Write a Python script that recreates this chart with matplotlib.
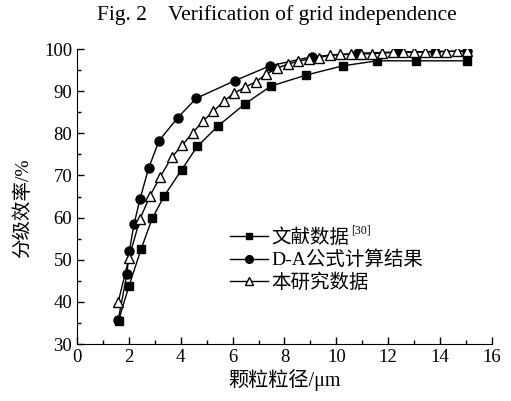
import matplotlib
matplotlib.use("Agg")
import matplotlib.pyplot as plt
from matplotlib.ticker import MultipleLocator

plt.rcParams["font.family"] = ["Liberation Serif", "Noto Sans CJK SC"]

# literature data
lit_x = [1.6, 2.0, 2.47, 2.9, 3.37, 4.04, 4.64, 5.45, 6.48, 7.48, 8.83, 10.24, 11.58, 13.07, 15.02]
lit_y = [35.5, 43.7, 52.5, 59.8, 65.2, 71.4, 76.9, 81.8, 87.0, 91.2, 93.8, 96.0, 97.2, 97.2, 97.2]

# D-A formula results
da_x = [1.59, 1.92, 2.02, 2.2, 2.43, 2.76, 3.16, 3.88, 4.6, 6.09, 7.44, 9.07, 10.82, 12.37, 13.8, 15.02]
da_y = [35.7, 46.5, 52.1, 58.5, 64.4, 71.7, 78.2, 83.7, 88.3, 92.5, 96.0, 98.2, 99.0, 99.3, 99.4, 99.5]

# present study
cur_x = [1.59, 2.0, 2.43, 2.81, 3.2, 3.65, 4.06, 4.46, 4.87, 5.26, 5.67, 6.06, 6.49, 6.89,
         7.29, 7.7, 8.12, 8.53, 8.94, 9.34, 9.75, 10.14, 10.55, 10.95, 11.36, 11.77, 12.19,
         12.58, 13.0, 13.42, 13.83, 14.22, 14.64, 15.02]
cur_y = [40.0, 50.3, 59.7, 65.1, 69.6, 74.3, 77.2, 80.1, 83.0, 85.2, 87.7, 89.5, 91.0, 92.2,
         94.0, 95.4, 96.4, 97.1, 97.6, 97.9, 98.6, 98.7, 98.7, 98.8, 98.9, 99.0, 99.2,
         99.2, 99.2, 99.3, 99.4, 99.4, 99.5, 99.5]

fig = plt.figure(figsize=(5.11, 4.01), dpi=100)
ax = fig.add_axes([0.1507, 0.1421, 0.812, 0.7357])

ax.plot(lit_x, lit_y, "-s", color="black", lw=1, ms=5.8, label="文献数据")
ax.plot(da_x, da_y, "-o", color="black", lw=1, ms=6.5, label="D-A公式计算结果")
ax.plot(cur_x, cur_y, "-^", color="black", lw=1, ms=7, mfc="white", label="本研究数据")

ax.set_xlim(0, 16)
ax.set_ylim(30, 100)
ax.xaxis.set_major_locator(MultipleLocator(2))
ax.xaxis.set_minor_locator(MultipleLocator(1))
ax.yaxis.set_major_locator(MultipleLocator(10))
ax.yaxis.set_minor_locator(MultipleLocator(5))
ax.tick_params(which="both", direction="in", labelsize=13.5, width=1)
ax.tick_params(which="major", length=5)
ax.tick_params(which="minor", length=3)
ax.spines["top"].set_visible(False)
ax.spines["right"].set_visible(False)

ax.set_xlabel("颗粒粒径/μm", fontsize=14.5, labelpad=2)
ax.set_ylabel("分级效率/%", fontsize=14)
ax.yaxis.set_label_coords(-0.108, 0.46)
fig.text(277 / 511, 0.962, "Fig. 2    Verification of grid independence",
         fontsize=15.5, ha="center", va="center")

leg = ax.legend(loc="upper left", bbox_to_anchor=(0.345, 0.425), frameon=False, fontsize=14,
                borderpad=0, markerscale=0.85, handlelength=1.95, handletextpad=0.2,
                labelspacing=0.2)

# reference number as superscript after the first legend entry
fig.canvas.draw()
bb = leg.get_texts()[0].get_window_extent()
fig.text(bb.x1 + 1, (bb.y0 + bb.y1) / 2 + 1, "[30]", fontsize=8.5, ha="left",
         va="bottom", transform=None)

fig.savefig("out.png", dpi=100)
